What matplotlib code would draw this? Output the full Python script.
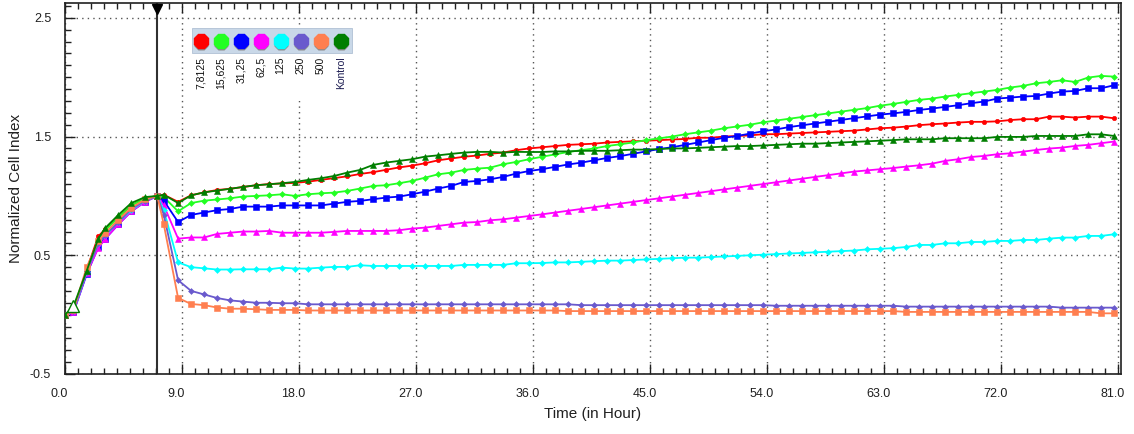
import matplotlib.pyplot as plt
import matplotlib.patches as mpatches
from matplotlib.transforms import ScaledTranslation
from matplotlib.ticker import MultipleLocator

plt.rcParams['font.family'] = ['Liberation Sans', 'DejaVu Sans']

# time of each reading (hours)
time_h = [0.0, 0.65, 1.67, 2.56, 3.1, 4.1, 5.1, 6.15, 7.1, 7.6,
          8.7, 9.7, 10.7, 11.7, 12.7, 13.7, 14.7, 15.7, 16.7, 17.7,
          18.7, 19.7, 20.7, 21.7, 22.7, 23.7, 24.7, 25.7, 26.7, 27.7,
          28.7, 29.7, 30.7, 31.7, 32.7, 33.7, 34.7, 35.7, 36.7, 37.7,
          38.7, 39.7, 40.7, 41.7, 42.7, 43.7, 44.7, 45.7, 46.7, 47.7,
          48.7, 49.7, 50.7, 51.7, 52.7, 53.7, 54.7, 55.7, 56.7, 57.7,
          58.7, 59.7, 60.7, 61.7, 62.7, 63.7, 64.7, 65.7, 66.7, 67.7,
          68.7, 69.7, 70.7, 71.7, 72.7, 73.7, 74.7, 75.7, 76.7, 77.7,
          78.7, 79.7, 80.7]

conc_7_8125 = [0.0, 0.03, 0.38, 0.66, 0.72, 0.82, 0.92, 0.98, 1.0, 1.01,
               0.95, 1.005, 1.03, 1.05, 1.06, 1.075, 1.09, 1.10, 1.105, 1.11,
               1.12, 1.135, 1.15, 1.165, 1.185, 1.20, 1.22, 1.24, 1.255, 1.275,
               1.30, 1.315, 1.33, 1.34, 1.355, 1.365, 1.385, 1.40, 1.41, 1.42,
               1.43, 1.435, 1.44, 1.45, 1.455, 1.46, 1.465, 1.47, 1.475, 1.48,
               1.49, 1.49, 1.50, 1.505, 1.51, 1.52, 1.52, 1.525, 1.53, 1.535,
               1.54, 1.545, 1.55, 1.56, 1.57, 1.575, 1.584, 1.596, 1.604, 1.61,
               1.618, 1.624, 1.624, 1.628, 1.639, 1.646, 1.646, 1.668, 1.668, 1.66,
               1.668, 1.668, 1.654]

conc_15_625 = [0.0, 0.03, 0.37, 0.63, 0.71, 0.82, 0.92, 0.98, 1.0, 0.99,
               0.87, 0.94, 0.96, 0.97, 0.98, 0.995, 1.0, 1.005, 1.014, 1.0,
               1.014, 1.022, 1.028, 1.042, 1.062, 1.084, 1.09, 1.107, 1.126, 1.154,
               1.182, 1.196, 1.219, 1.23, 1.238, 1.267, 1.286, 1.309, 1.33, 1.35,
               1.37, 1.385, 1.40, 1.42, 1.435, 1.45, 1.47, 1.485, 1.50, 1.52,
               1.535, 1.55, 1.57, 1.585, 1.60, 1.62, 1.635, 1.65, 1.665, 1.68,
               1.695, 1.71, 1.725, 1.74, 1.76, 1.775, 1.792, 1.809, 1.82, 1.837,
               1.851, 1.865, 1.879, 1.893, 1.913, 1.927, 1.949, 1.96, 1.974, 1.96,
               1.997, 2.011, 2.005]

conc_31_25 = [0.0, 0.02, 0.34, 0.57, 0.64, 0.76, 0.87, 0.95, 1.0, 0.96,
              0.78, 0.84, 0.86, 0.88, 0.89, 0.91, 0.91, 0.91, 0.92, 0.92,
              0.92, 0.92, 0.935, 0.95, 0.958, 0.972, 0.986, 0.994, 1.014, 1.036,
              1.062, 1.084, 1.118, 1.126, 1.14, 1.16, 1.188, 1.21, 1.225, 1.245,
              1.265, 1.28, 1.30, 1.32, 1.335, 1.355, 1.375, 1.395, 1.41, 1.43,
              1.45, 1.47, 1.49, 1.505, 1.525, 1.545, 1.56, 1.58, 1.595, 1.61,
              1.625, 1.64, 1.655, 1.67, 1.685, 1.695, 1.708, 1.724, 1.736, 1.75,
              1.764, 1.781, 1.795, 1.82, 1.828, 1.837, 1.842, 1.862, 1.879, 1.884,
              1.907, 1.907, 1.932]

conc_62_5 = [0.0, 0.02, 0.35, 0.56, 0.64, 0.76, 0.87, 0.95, 1.0, 0.92,
             0.64, 0.65, 0.65, 0.68, 0.69, 0.70, 0.70, 0.705, 0.69, 0.69,
             0.69, 0.69, 0.697, 0.705, 0.705, 0.705, 0.705, 0.711, 0.725, 0.733,
             0.747, 0.761, 0.775, 0.78, 0.795, 0.803, 0.817, 0.831, 0.845, 0.86,
             0.875, 0.89, 0.905, 0.92, 0.935, 0.95, 0.965, 0.98, 0.995, 1.01,
             1.025, 1.04, 1.055, 1.07, 1.085, 1.10, 1.115, 1.13, 1.145, 1.16,
             1.175, 1.19, 1.205, 1.215, 1.225, 1.235, 1.247, 1.258, 1.272, 1.295,
             1.309, 1.328, 1.337, 1.351, 1.359, 1.373, 1.387, 1.399, 1.407, 1.421,
             1.43, 1.444, 1.458]

conc_125 = [0.0, 0.03, 0.36, 0.60, 0.67, 0.78, 0.88, 0.96, 1.0, 0.88,
            0.44, 0.40, 0.39, 0.38, 0.38, 0.382, 0.382, 0.382, 0.396, 0.388,
            0.388, 0.396, 0.402, 0.402, 0.416, 0.41, 0.41, 0.41, 0.41, 0.41,
            0.41, 0.41, 0.419, 0.419, 0.419, 0.419, 0.433, 0.433, 0.435, 0.44,
            0.44, 0.445, 0.45, 0.455, 0.455, 0.46, 0.465, 0.47, 0.475, 0.48,
            0.48, 0.485, 0.49, 0.495, 0.50, 0.505, 0.51, 0.515, 0.52, 0.525,
            0.53, 0.535, 0.54, 0.55, 0.555, 0.56, 0.570, 0.587, 0.587, 0.601,
            0.601, 0.612, 0.612, 0.621, 0.621, 0.629, 0.629, 0.64, 0.649, 0.649,
            0.663, 0.663, 0.677]

conc_250 = [0.0, 0.03, 0.36, 0.60, 0.67, 0.78, 0.89, 0.96, 1.0, 0.84,
            0.29, 0.20, 0.17, 0.14, 0.12, 0.11, 0.10, 0.10, 0.096, 0.096,
            0.087, 0.087, 0.087, 0.087, 0.087, 0.087, 0.087, 0.087, 0.087, 0.087,
            0.087, 0.087, 0.087, 0.087, 0.087, 0.087, 0.087, 0.087, 0.087, 0.087,
            0.087, 0.08, 0.08, 0.08, 0.08, 0.08, 0.08, 0.08, 0.08, 0.08,
            0.08, 0.08, 0.08, 0.08, 0.08, 0.08, 0.075, 0.075, 0.075, 0.075,
            0.075, 0.075, 0.075, 0.075, 0.075, 0.075, 0.0675, 0.0675, 0.0675, 0.0675,
            0.0675, 0.0675, 0.0675, 0.0675, 0.0675, 0.0675, 0.0675, 0.0675, 0.059, 0.059,
            0.059, 0.059, 0.059]

conc_500 = [0.0, 0.04, 0.40, 0.62, 0.69, 0.80, 0.90, 0.97, 1.0, 0.76,
            0.14, 0.09, 0.08, 0.06, 0.05, 0.05, 0.045, 0.04, 0.04, 0.04,
            0.035, 0.035, 0.035, 0.035, 0.035, 0.035, 0.035, 0.035, 0.035, 0.035,
            0.035, 0.035, 0.035, 0.035, 0.035, 0.035, 0.035, 0.035, 0.035, 0.035,
            0.03, 0.03, 0.03, 0.03, 0.03, 0.03, 0.03, 0.03, 0.03, 0.03,
            0.03, 0.03, 0.03, 0.03, 0.03, 0.03, 0.03, 0.03, 0.03, 0.03,
            0.03, 0.03, 0.03, 0.03, 0.03, 0.03, 0.023, 0.023, 0.023, 0.023,
            0.023, 0.023, 0.023, 0.023, 0.023, 0.023, 0.023, 0.023, 0.023, 0.023,
            0.023, 0.011, 0.011]

kontrol = [0.0, 0.07, 0.37, 0.64, 0.73, 0.84, 0.94, 0.99, 1.0, 1.01,
           0.94, 1.005, 1.03, 1.045, 1.06, 1.076, 1.09, 1.098, 1.107, 1.118,
           1.135, 1.149, 1.168, 1.196, 1.219, 1.261, 1.281, 1.295, 1.309, 1.331,
           1.342, 1.354, 1.365, 1.371, 1.371, 1.365, 1.371, 1.37, 1.37, 1.375,
           1.375, 1.38, 1.38, 1.38, 1.385, 1.39, 1.39, 1.395, 1.40, 1.40,
           1.405, 1.41, 1.415, 1.42, 1.42, 1.425, 1.43, 1.435, 1.44, 1.44,
           1.445, 1.45, 1.455, 1.46, 1.465, 1.47, 1.477, 1.477, 1.477, 1.486,
           1.486, 1.486, 1.486, 1.497, 1.497, 1.497, 1.505, 1.505, 1.505, 1.505,
           1.519, 1.519, 1.505]

labels = ['7,8125', '15,625', '31,25', '62,5', '125', '250', '500', 'Kontrol']
series = [conc_7_8125, conc_15_625, conc_31_25, conc_62_5,
          conc_125, conc_250, conc_500, kontrol]
colors = ['#FF0000', '#22FF22', '#0000FF', '#FF00FF',
          '#00FFFF', '#6A5ACD', '#FF7F50', '#007F00']
markers = ['o', 'D', 's', '^', 'D', 'D', 's', '^']
msizes = [3.2, 3.0, 4.2, 4.2, 3.0, 3.0, 4.2, 4.6]

treatment_h = 7.1

fig = plt.figure(figsize=(11.34, 4.34), dpi=100, facecolor='white')
ax = fig.add_axes([65 / 1134, 1 - 374 / 434, 1056 / 1134, 371 / 434])

for vals, c, m, ms in zip(series, colors, markers, msizes):
    ax.plot(time_h, vals, color=c, lw=1.3, marker=m, ms=ms,
            markeredgewidth=0.4, markeredgecolor=c, zorder=3)

# hollow marker on the control's second reading
ax.plot(time_h[1], kontrol[1], marker='^', ms=8, mfc='white',
        mec=colors[7], mew=1.0, zorder=4)

# treatment line with marker at top
ax.axvline(treatment_h, color='#303030', lw=1.5, zorder=2)
ax.plot(treatment_h, 2.575, marker='v', color='black', ms=7.5, zorder=5,
        clip_on=False)

ax.set_xlim(0, 81.23)
ax.set_ylim(-0.5, 2.625)

ax.xaxis.set_major_locator(MultipleLocator(9))
ax.xaxis.set_minor_locator(MultipleLocator(1))
ax.yaxis.set_minor_locator(MultipleLocator(0.1))
ax.yaxis.set_major_formatter(plt.FormatStrFormatter('%.1f'))
ax.xaxis.set_major_formatter(plt.FormatStrFormatter('%.1f'))
ax.set_yticks([-0.5, 0.5, 1.5, 2.5])

ax.tick_params(axis='both', which='both', direction='in', colors='#202020',
               labelsize=9, width=1)
ax.tick_params(axis='x', which='both', top=True)
ax.tick_params(which='major', length=7, pad=10)
ax.tick_params(which='minor', length=4)
for lab in ax.get_xticklabels():
    lab.set_transform(lab.get_transform() +
                      ScaledTranslation(-4 / 72, 0, fig.dpi_scale_trans))

ax.grid(True, which='major', linestyle=(0, (1, 3)), color='#555555', lw=1)
for s in ax.spines.values():
    s.set_color('#202020')
    s.set_linewidth(1.2)

ax.set_xlabel('Time (in Hour)', fontsize=11, color='#202020', labelpad=5)
ax.set_ylabel('Normalized Cell Index', fontsize=11, color='#202020', labelpad=5)

# legend strip (drawn in axes coordinates)
ax.add_patch(mpatches.Rectangle((0.118, 0.735), 0.156, 0.2, transform=ax.transAxes,
                                facecolor='white', edgecolor='none', zorder=6))
ax.add_patch(mpatches.Rectangle((0.1205, 0.8644), 0.1515, 0.0676,
                                transform=ax.transAxes, facecolor='#C9D8E8',
                                edgecolor='#B0C0D4', lw=0.6, zorder=7))
step = 20 / 1056
x0 = (200.7 - 65) / 1056
for i, (lab, c) in enumerate(zip(labels, colors)):
    xp = x0 + i * step
    ax.plot(xp, 0.893, marker='8', ms=11.5, color='#8A8A8A', mec='none',
            transform=ax.transAxes, clip_on=False, zorder=8)
    ax.plot(xp, 0.898, marker='8', ms=11, color=c, mec=c,
            transform=ax.transAxes, clip_on=False, zorder=9)
    ax.text(xp, 0.855, lab, rotation=90, ha='center', va='top', fontsize=7.5,
            color='#1A1A50' if lab == 'Kontrol' else '#101010',
            transform=ax.transAxes, zorder=9)

fig.savefig('out.png', dpi=100, facecolor='white')
